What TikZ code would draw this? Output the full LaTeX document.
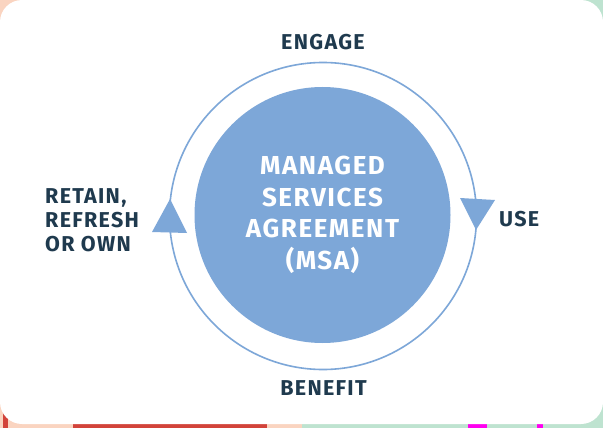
\documentclass[tikz,border=0pt]{standalone}
\usepackage{fontspec}
\setmainfont{Fira Sans}[LetterSpace=6]
\definecolor{msablue}{HTML}{7DA7D8}
\definecolor{labelnavy}{HTML}{1F3A4E}
\definecolor{bgpeach}{HTML}{FAD4C0}
\definecolor{bggreen}{HTML}{BEE3D0}
\definecolor{bgred}{HTML}{D2433A}
\definecolor{bgpink}{HTML}{FF00F0}
\begin{document}
\begin{tikzpicture}[x=1pt,y=-1pt,
    stage/.style={text=labelnavy,inner sep=0pt,font=\bfseries\fontsize{21.5}{24}\selectfont},
    hub/.style={circle,fill=msablue,minimum size=256pt,inner sep=0pt,text=white,align=center,
                font=\bfseries\fontsize{26}{31.5}\selectfont},
    ring/.style={circle,draw=msablue,line width=1.6pt,minimum size=307pt,inner sep=0pt}]
  \useasboundingbox (0,0) rectangle (603,428);
  % backdrop
  \fill[bgpeach] (0,0) rectangle (302,428);
  \fill[bggreen] (302,0) rectangle (603,428);
  \fill[bgred] (73,424) rectangle (267,428);
  \fill[bgred] (3,413) rectangle (8,428);
  \fill[bgpink] (468,424) rectangle (487,428);
  \fill[bgpink] (537,424) rectangle (543,428);
  \fill[white,rounded corners=22pt] (0,0) rectangle (603,424);

  % cycle
  \node[ring] (loop) at (323,216) {};
  \node[hub] (msa) at (322.5,215) {MANAGED\\SERVICES\\AGREEMENT\\(MSA)};
  \fill[msablue] (170,199) -- (152,232) -- (187,233) -- cycle;
  \fill[msablue] (476,230) -- (460,198) -- (495,200) -- cycle;

  % stages
  \node[stage] (engage) at (323,42) {ENGAGE};
  \node[stage,anchor=west] (use) at (499,219) {USE};
  \node[stage] (benefit) at (323.5,388) {BENEFIT};
  \node[stage,anchor=west,align=left] (retain) at (45,220) {RETAIN,\\REFRESH\\OR OWN};
\end{tikzpicture}
\end{document}
